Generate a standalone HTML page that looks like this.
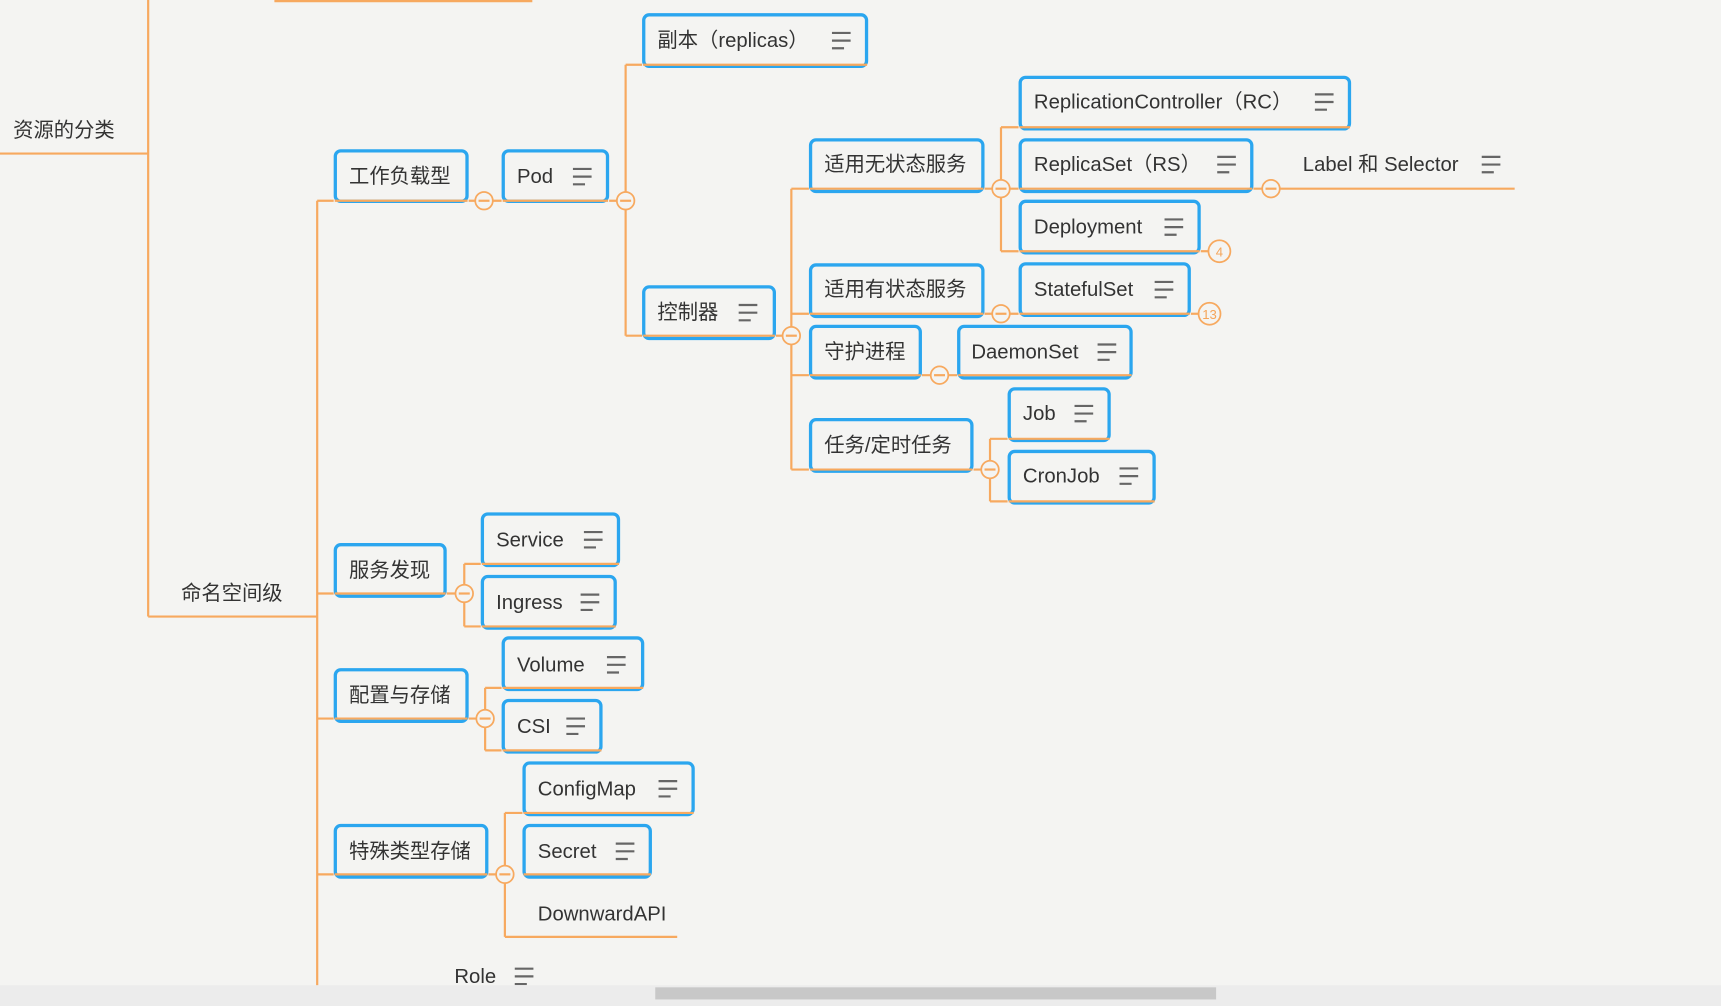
<!DOCTYPE html>
<html><head><meta charset="utf-8"><style>
html,body{margin:0;padding:0;background:#f4f4f2;overflow:hidden}
svg{display:block}
text{font-family:"Liberation Sans","Noto Sans CJK SC",sans-serif;font-size:18.5px;fill:#333}
.b{fill:none;stroke:#2ba6ef;stroke-width:3}
.o{stroke:#f7a95f;stroke-width:2;fill:none}
.i{stroke:#666;stroke-width:2}
.c{fill:#f4f4f2;stroke:#f7a95f;stroke-width:1.6}
</style></head><body>
<svg width="1721" height="1006" viewBox="0 0 1568 917" preserveAspectRatio="none">
<rect width="1568" height="917" fill="#f4f4f2"/>
<g class="o">
<line x1="250" y1="1" x2="485" y2="1"/>
<line x1="135" y1="0" x2="135" y2="562"/>
<line x1="0" y1="140" x2="135" y2="140"/>
<line x1="135" y1="562" x2="289" y2="562"/>
<line x1="289" y1="183" x2="289" y2="900"/>
<line x1="289" y1="183" x2="304" y2="183"/>
<line x1="427" y1="183" x2="457" y2="183"/>
<line x1="555" y1="183" x2="570" y2="183"/>
<line x1="570" y1="59" x2="570" y2="306"/>
<line x1="570" y1="59" x2="585" y2="59"/>
<line x1="570" y1="306" x2="585" y2="306"/>
<line x1="707" y1="306" x2="721" y2="306"/>
<line x1="721" y1="172" x2="721" y2="428"/>
<line x1="721" y1="172" x2="737" y2="172"/>
<line x1="721" y1="286" x2="737" y2="286"/>
<line x1="721" y1="342" x2="737" y2="342"/>
<line x1="721" y1="428" x2="737" y2="428"/>
<line x1="897" y1="172" x2="912" y2="172"/>
<line x1="912" y1="116" x2="912" y2="229"/>
<line x1="912" y1="116" x2="928" y2="116"/>
<line x1="912" y1="172" x2="928" y2="172"/>
<line x1="912" y1="229" x2="928" y2="229"/>
<line x1="897" y1="286" x2="928" y2="286"/>
<line x1="840" y1="342" x2="872" y2="342"/>
<line x1="887" y1="428" x2="902" y2="428"/>
<line x1="902" y1="400" x2="902" y2="457"/>
<line x1="902" y1="400" x2="918" y2="400"/>
<line x1="902" y1="457" x2="918" y2="457"/>
<line x1="1142" y1="172" x2="1380" y2="172"/>
<line x1="1094" y1="229" x2="1102" y2="229"/>
<line x1="1085" y1="286" x2="1092" y2="286"/>
<line x1="289" y1="541" x2="304" y2="541"/>
<line x1="407" y1="541" x2="423" y2="541"/>
<line x1="423" y1="514" x2="423" y2="571"/>
<line x1="423" y1="514" x2="438" y2="514"/>
<line x1="423" y1="571" x2="438" y2="571"/>
<line x1="289" y1="655" x2="304" y2="655"/>
<line x1="427" y1="655" x2="442" y2="655"/>
<line x1="442" y1="627" x2="442" y2="684"/>
<line x1="442" y1="627" x2="457" y2="627"/>
<line x1="442" y1="684" x2="457" y2="684"/>
<line x1="289" y1="797" x2="304" y2="797"/>
<line x1="445" y1="797" x2="460" y2="797"/>
<line x1="460" y1="741" x2="460" y2="854"/>
<line x1="460" y1="741" x2="476" y2="741"/>
<line x1="460" y1="854" x2="617" y2="854"/>
</g>
<g>
<rect class="b" x="586.5" y="13.5" width="203" height="47" rx="5"/><line class="o" x1="586" y1="59" x2="790" y2="59"/><text x="599" y="43">副本（replicas）</text>
<rect class="b" x="305.5" y="137.5" width="120" height="46" rx="5"/><line class="o" x1="305" y1="183" x2="426" y2="183"/><text x="318" y="167">工作负载型</text>
<rect class="b" x="458.5" y="137.5" width="95" height="46" rx="5"/><line class="o" x1="458" y1="183" x2="554" y2="183"/><text x="471" y="167">Pod</text>
<rect class="b" x="586.5" y="261.5" width="119" height="47" rx="5"/><line class="o" x1="586" y1="306" x2="706" y2="306"/><text x="599" y="291">控制器</text>
<rect class="b" x="738.5" y="127.5" width="157" height="47" rx="5"/><line class="o" x1="738" y1="172" x2="896" y2="172"/><text x="751" y="156">适用无状态服务</text>
<rect class="b" x="738.5" y="241.5" width="157" height="47" rx="5"/><line class="o" x1="738" y1="286" x2="896" y2="286"/><text x="751" y="270">适用有状态服务</text>
<rect class="b" x="738.5" y="297.5" width="100" height="47" rx="5"/><line class="o" x1="738" y1="342" x2="839" y2="342"/><text x="751" y="327">守护进程</text>
<rect class="b" x="738.5" y="382.5" width="147" height="47" rx="5"/><line class="o" x1="738" y1="428" x2="886" y2="428"/><text x="751" y="412">任务/定时任务</text>
<rect class="b" x="929.5" y="70.5" width="300" height="47" rx="5"/><line class="o" x1="929" y1="116" x2="1230" y2="116"/><text x="942" y="99">ReplicationController（RC）</text>
<rect class="b" x="929.5" y="127.5" width="211" height="47" rx="5"/><line class="o" x1="929" y1="172" x2="1141" y2="172"/><text x="942" y="156">ReplicaSet（RS）</text>
<rect class="b" x="929.5" y="183.5" width="163" height="47" rx="5"/><line class="o" x1="929" y1="229" x2="1093" y2="229"/><text x="942" y="213">Deployment</text>
<rect class="b" x="929.5" y="240.5" width="154" height="47" rx="5"/><line class="o" x1="929" y1="286" x2="1084" y2="286"/><text x="942" y="270">StatefulSet</text>
<rect class="b" x="873.5" y="297.5" width="157" height="47" rx="5"/><line class="o" x1="873" y1="342" x2="1031" y2="342"/><text x="885" y="327">DaemonSet</text>
<rect class="b" x="919.5" y="354.5" width="91" height="47" rx="5"/><line class="o" x1="919" y1="400" x2="1011" y2="400"/><text x="932" y="383">Job</text>
<rect class="b" x="919.5" y="411.5" width="132" height="47" rx="5"/><line class="o" x1="919" y1="457" x2="1052" y2="457"/><text x="932" y="440">CronJob</text>
<rect class="b" x="305.5" y="496.5" width="100" height="47" rx="5"/><line class="o" x1="305" y1="541" x2="406" y2="541"/><text x="318" y="526">服务发现</text>
<rect class="b" x="439.5" y="468.5" width="124" height="47" rx="5"/><line class="o" x1="439" y1="514" x2="564" y2="514"/><text x="452" y="498">Service</text>
<rect class="b" x="439.5" y="525.5" width="121" height="47" rx="5"/><line class="o" x1="439" y1="571" x2="561" y2="571"/><text x="452" y="555">Ingress</text>
<rect class="b" x="305.5" y="610.5" width="120" height="47" rx="5"/><line class="o" x1="305" y1="655" x2="426" y2="655"/><text x="318" y="640">配置与存储</text>
<rect class="b" x="458.5" y="581.5" width="127" height="47" rx="5"/><line class="o" x1="458" y1="627" x2="586" y2="627"/><text x="471" y="612">Volume</text>
<rect class="b" x="458.5" y="638.5" width="89" height="47" rx="5"/><line class="o" x1="458" y1="684" x2="548" y2="684"/><text x="471" y="668">CSI</text>
<rect class="b" x="305.5" y="752.5" width="138" height="47" rx="5"/><line class="o" x1="305" y1="797" x2="444" y2="797"/><text x="318" y="782">特殊类型存储</text>
<rect class="b" x="477.5" y="695.5" width="154" height="47" rx="5"/><line class="o" x1="477" y1="741" x2="632" y2="741"/><text x="490" y="725">ConfigMap</text>
<rect class="b" x="477.5" y="752.5" width="115" height="47" rx="5"/><line class="o" x1="477" y1="797" x2="593" y2="797"/><text x="490" y="782">Secret</text>
</g>
<text x="12" y="125">资源的分类</text>
<text x="165" y="547">命名空间级</text>
<text x="1187" y="156">Label 和 Selector</text>
<text x="490" y="839">DownwardAPI</text>
<text x="414" y="896">Role</text>
<g class="i">
<path d="M758 30h17M758 37h17M758 44h11"/>
<path d="M522 154h17M522 161h17M522 168h11"/>
<path d="M673 278h17M673 285h17M673 292h11"/>
<path d="M1198 86h17M1198 93h17M1198 100h11"/>
<path d="M1109 143h17M1109 150h17M1109 157h11"/>
<path d="M1061 200h17M1061 207h17M1061 214h11"/>
<path d="M1052 257h17M1052 264h17M1052 271h11"/>
<path d="M1000 314h17M1000 321h17M1000 328h11"/>
<path d="M979 370h17M979 377h17M979 384h11"/>
<path d="M1020 427h17M1020 434h17M1020 441h11"/>
<path d="M1350 143h17M1350 150h17M1350 157h11"/>
<path d="M532 485h17M532 492h17M532 499h11"/>
<path d="M529 542h17M529 549h17M529 556h11"/>
<path d="M553 599h17M553 606h17M553 613h11"/>
<path d="M516 655h17M516 662h17M516 669h11"/>
<path d="M600 712h17M600 719h17M600 726h11"/>
<path d="M561 769h17M561 776h17M561 783h11"/>
<path d="M469 883h17M469 890h17M469 897h11"/>
</g>
<g>
<circle class="c" cx="441" cy="183" r="8"/><line class="o" x1="436" y1="183" x2="446" y2="183"/>
<circle class="c" cx="570" cy="183" r="8"/><line class="o" x1="565" y1="183" x2="575" y2="183"/>
<circle class="c" cx="721" cy="306" r="8"/><line class="o" x1="716" y1="306" x2="726" y2="306"/>
<circle class="c" cx="912" cy="172" r="8"/><line class="o" x1="907" y1="172" x2="917" y2="172"/>
<circle class="c" cx="912" cy="286" r="8"/><line class="o" x1="907" y1="286" x2="917" y2="286"/>
<circle class="c" cx="856" cy="342" r="8"/><line class="o" x1="851" y1="342" x2="861" y2="342"/>
<circle class="c" cx="902" cy="428" r="8"/><line class="o" x1="897" y1="428" x2="907" y2="428"/>
<circle class="c" cx="1158" cy="172" r="8"/><line class="o" x1="1153" y1="172" x2="1163" y2="172"/>
<circle class="c" cx="423" cy="541" r="8"/><line class="o" x1="418" y1="541" x2="428" y2="541"/>
<circle class="c" cx="442" cy="655" r="8"/><line class="o" x1="437" y1="655" x2="447" y2="655"/>
<circle class="c" cx="460" cy="797" r="8"/><line class="o" x1="455" y1="797" x2="465" y2="797"/>
<circle class="c" cx="1111" cy="229" r="10"/><text x="1111" y="234" text-anchor="middle" style="font-size:12px;fill:#f5a55a">4</text>
<circle class="c" cx="1102" cy="286" r="10"/><text x="1102" y="291" text-anchor="middle" style="font-size:12px;fill:#f5a55a">13</text>
</g>
<rect x="0" y="898" width="1568" height="19" fill="#ececec"/>
<rect x="597" y="900" width="511" height="11" fill="#c8c8c8"/>
</svg>
</body></html>
